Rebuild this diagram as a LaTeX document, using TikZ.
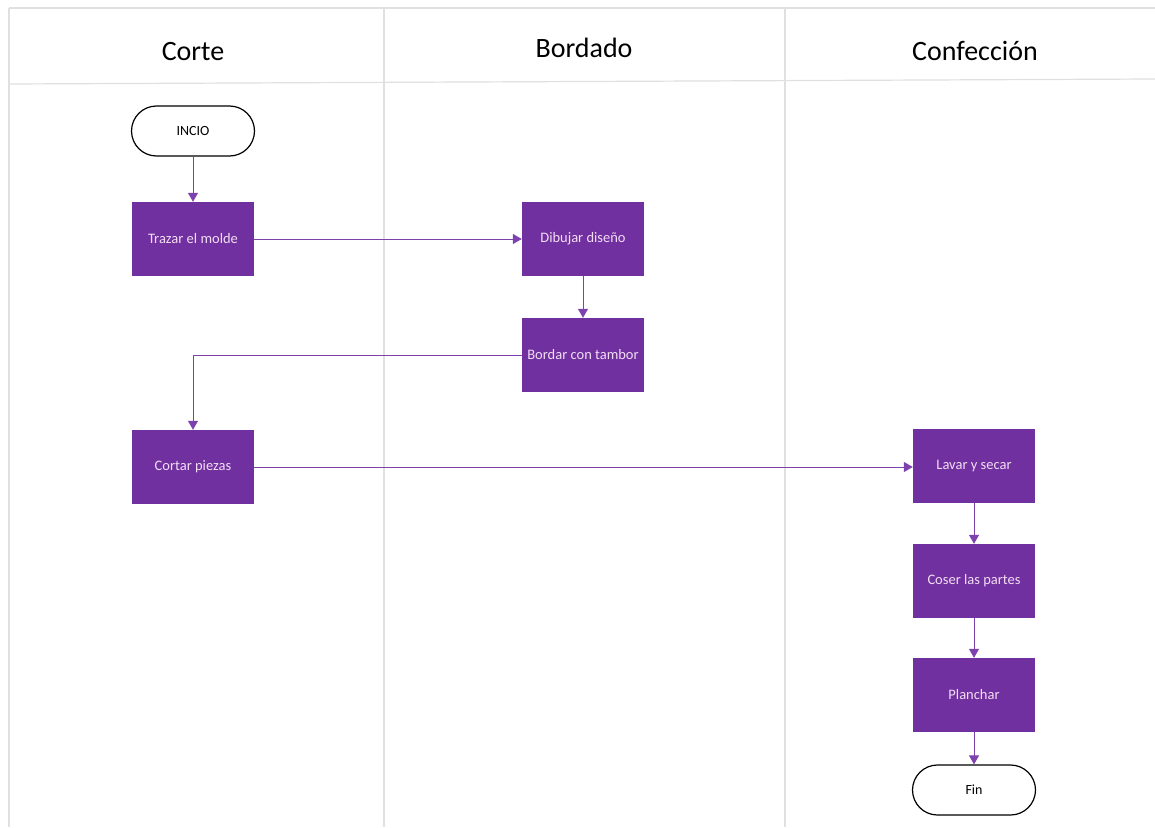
\documentclass[tikz,border=0pt]{standalone}
\usepackage{fontspec}
\setmainfont{Carlito}
\usetikzlibrary{arrows.meta}
\definecolor{procfill}{HTML}{7030A0}
\definecolor{proctext}{HTML}{F3DDF3}
\definecolor{flowline}{HTML}{7E42AE}
\definecolor{laneline}{HTML}{E0E0E0}
\begin{document}
\begin{tikzpicture}[x=1pt,y=-1pt,
  lane/.style={draw=laneline,line width=1.2pt},
  header/.style={font=\fontsize{28}{32}\selectfont,text=black},
  process/.style={rectangle,fill=procfill,draw=none,minimum width=122pt,minimum height=74pt,
    inner sep=0pt,text=proctext,font=\fontsize{14.5}{17}\selectfont},
  terminal/.style={rectangle,rounded corners=25pt,draw=black,line width=1.2pt,fill=white,
    minimum width=123pt,minimum height=50pt,inner sep=0pt,font=\fontsize{14}{17}\selectfont},
  flow/.style={draw=flowline,line width=1pt,-{Triangle[length=9pt,width=10pt]}}]
\useasboundingbox (0,0) rectangle (1155,827);
\fill[white] (0,0) rectangle (1155,827);
% swimlane frame
\draw[lane] (9,8) -- (1155,8);
\draw[lane] (9,8) -- (9,827);
\draw[lane] (384,8) -- (384,827);
\draw[lane] (785,8) -- (785,827);
\draw[lane] (9,84) -- (1155,79);
% lane titles
\node[header] (hcorte) at (193,52) {Corte};
\node[header] (hbord) at (584,48) {Bordado};
\node[header] (hconf) at (975,51) {Confección};
% steps
\node[terminal] (inicio) at (193,131) {INCIO};
\node[process] (trazar) at (193,239) {Trazar el molde};
\node[process] (dibujar) at (583,239) {Dibujar diseño};
\node[process] (bordar) at (583,355) {Bordar con tambor};
\node[process] (cortar) at (193,467) {Cortar piezas};
\node[process] (lavar) at (974,466) {Lavar y secar};
\node[process] (coser) at (974,581) {Coser las partes};
\node[process] (planchar) at (974,695) {Planchar};
\node[terminal] (fin) at (974,790) {Fin};
% connectors
\draw[flow] (inicio) -- (trazar);
\draw[flow] (trazar) -- (dibujar);
\draw[flow] (dibujar) -- (bordar);
\draw[flow] (bordar.west) -| (cortar.north);
\draw[flow] (cortar.east) -- (lavar.west |- cortar.east);
\draw[flow] (lavar) -- (coser);
\draw[flow] (coser) -- (planchar);
\draw[flow] (planchar) -- (fin);
\end{tikzpicture}
\end{document}
